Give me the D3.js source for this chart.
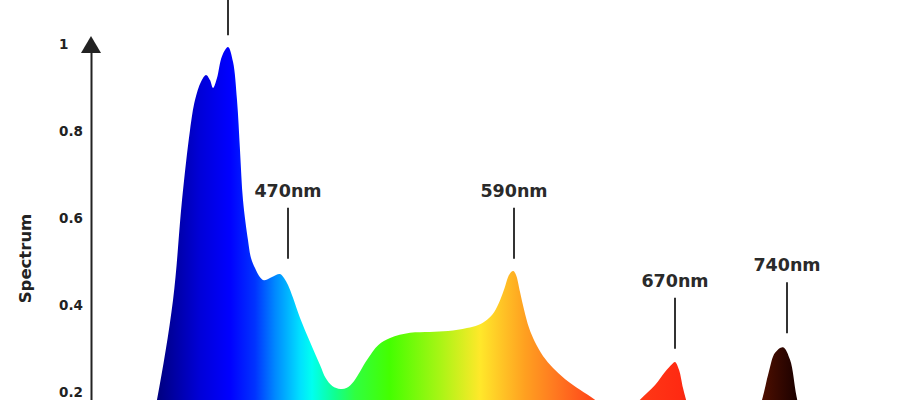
<!DOCTYPE html>
<html>
<head>
<meta charset="utf-8">
<script src="https://cdn.jsdelivr.net/npm/d3@7"></script>
<style>
  html, body { margin: 0; padding: 0; background: #fff; overflow: hidden; }
  svg { display: block; font-family: "DejaVu Sans", Verdana, sans-serif; }
</style>
</head>
<body>
<svg id="chart" width="920" height="400"></svg>
<script>
// ---- data ----
const wavelengths = [396, 404.5, 412.5, 417, 421, 423.5, 426.5, 429, 431, 432.5, 434.5, 437, 440, 442.5, 444.5, 446, 447.5, 450, 451.5, 453.5, 456, 458, 461, 464, 466, 468, 470, 472.7, 476.4, 481.7, 487, 490, 493.5, 497.8, 501, 505, 512, 518, 524.2, 534.8, 545.4, 555, 565, 571, 575.7, 579.5, 582.6, 585, 586.8, 588.5, 589.7, 591, 593, 595, 597.5, 600.4, 604.4, 609.4, 615.3, 622.8, 630.2, 640, 648, 652.6, 660.1, 665, 668.5, 670, 672.5, 675, 676.9, 682, 692, 705, 716, 724.4, 728.5, 732.5, 737.5, 741.9, 746, 752, 760];
const spectrum = [0, 0.182, 0.411, 0.641, 0.802, 0.871, 0.913, 0.929, 0.917, 0.899, 0.922, 0.972, 0.993, 0.959, 0.871, 0.756, 0.641, 0.549, 0.508, 0.485, 0.464, 0.457, 0.462, 0.469, 0.471, 0.462, 0.446, 0.416, 0.370, 0.315, 0.262, 0.232, 0.214, 0.207, 0.209, 0.225, 0.274, 0.308, 0.324, 0.336, 0.338, 0.340, 0.347, 0.354, 0.366, 0.384, 0.411, 0.439, 0.464, 0.476, 0.478, 0.469, 0.430, 0.389, 0.347, 0.315, 0.283, 0.255, 0.230, 0.205, 0.182, 0.145, 0.155, 0.182, 0.216, 0.246, 0.264, 0.269, 0.251, 0.209, 0.182, 0.110, 0.055, 0.040, 0.090, 0.182, 0.244, 0.290, 0.303, 0.274, 0.189, 0.090, 0];

const peakWavelengths = [440, 470, 590, 670, 740];
const peakLabels = [null, "470nm", "590nm", "670nm", "740nm"]; // label of the 440 nm marker lies outside the picture
const peakLevels = [0.988, 0.474, 0.474, 0.267, 0.303];

const yTickValues = [0.2, 0.4, 0.6, 0.8, 1];
const yTickLabels = ["0.2", "0.4", "0.6", "0.8", "1"];
const yAxisTitle = "Spectrum";

const colorStopWavelengths = [401, 426, 441, 453.5, 463.5, 476.4, 482.7, 495, 505.6, 524, 550.7, 572, 585, 595.5, 610, 628, 673, 711, 726, 748];
const colorStopColors = ["#000070", "#0000d8", "#0000ff", "#0033ff", "#0088ff", "#00e0ff", "#00fff0", "#10ff90", "#30ff40", "#44ff00", "#a8f515", "#ffe82a", "#ffc025", "#ffa020", "#ff7a20", "#ff4a1a", "#ff2a12", "#8a1a05", "#4a0e00", "#180000"];

// ---- scales ----
const x = d3.scaleLinear()
  .domain([380, 440, 470, 590, 670, 740, 780])
  .range([108, 228, 288, 514, 675, 787, 851]);
const y = d3.scaleLinear().domain([0, 1]).range([479, 44]);

const svg = d3.select("#chart");
const data = wavelengths.map((w, i) => ({ w, v: spectrum[i] }));

// gradient
const defs = svg.append("defs");
const x1 = x(colorStopWavelengths[0]);
const x2 = x(colorStopWavelengths[colorStopWavelengths.length - 1]);
const grad = defs.append("linearGradient")
  .attr("id", "spec")
  .attr("gradientUnits", "userSpaceOnUse")
  .attr("x1", x1).attr("x2", x2).attr("y1", 0).attr("y2", 0);
colorStopWavelengths.forEach((w, i) => {
  grad.append("stop")
    .attr("offset", (x(w) - x1) / (x2 - x1))
    .attr("stop-color", colorStopColors[i]);
});

// area
const area = d3.area()
  .x(d => x(d.w))
  .y0(y(0))
  .y1(d => y(d.v))
  .curve(d3.curveCatmullRom.alpha(0.5));
svg.append("path").datum(data).attr("d", area).attr("fill", "url(#spec)");

// y axis
const axisX = 91;
const axis = d3.axisLeft(y)
  .tickValues(yTickValues)
  .tickFormat((d, i) => yTickLabels[i])
  .tickSize(0)
  .tickSizeOuter(0);
const gAxis = svg.append("g").attr("transform", `translate(${axisX},0)`).call(axis);
gAxis.select(".domain").attr("stroke", "#222").attr("stroke-width", 2);
gAxis.selectAll(".tick text")
  .attr("x", -32)
  .attr("text-anchor", "start")
  .attr("fill", "#222")
  .style("font-size", "13.5px")
  .style("font-weight", "bold")
  .style("font-family", "'DejaVu Sans', Verdana, sans-serif");

// arrow head
svg.append("path")
  .attr("d", d3.line()([[axisX - 10, 53], [axisX, 36], [axisX + 10, 53]]) + "Z")
  .attr("fill", "#222");

// axis title
svg.append("text")
  .attr("transform", `translate(31,${y(0.5) - 3}) rotate(-90)`)
  .attr("text-anchor", "middle")
  .attr("fill", "#222")
  .style("font-size", "16.5px")
  .style("font-weight", "bold")
  .text(yAxisTitle);

// annotations
const ann = svg.append("g");
peakWavelengths.forEach((w, i) => {
  const bottom = y(peakLevels[i]) - 14;
  const top = bottom - 51;
  ann.append("line")
    .attr("x1", x(w)).attr("x2", x(w))
    .attr("y1", top).attr("y2", bottom)
    .attr("stroke", "#333").attr("stroke-width", 2);
  if (peakLabels[i]) {
    ann.append("text")
      .attr("x", x(w)).attr("y", top - 11)
      .attr("text-anchor", "middle")
      .attr("fill", "#2a2a2a")
      .style("font-size", "17.5px")
      .style("font-weight", "bold")
      .text(peakLabels[i]);
  }
});
</script>
</body>
</html>
